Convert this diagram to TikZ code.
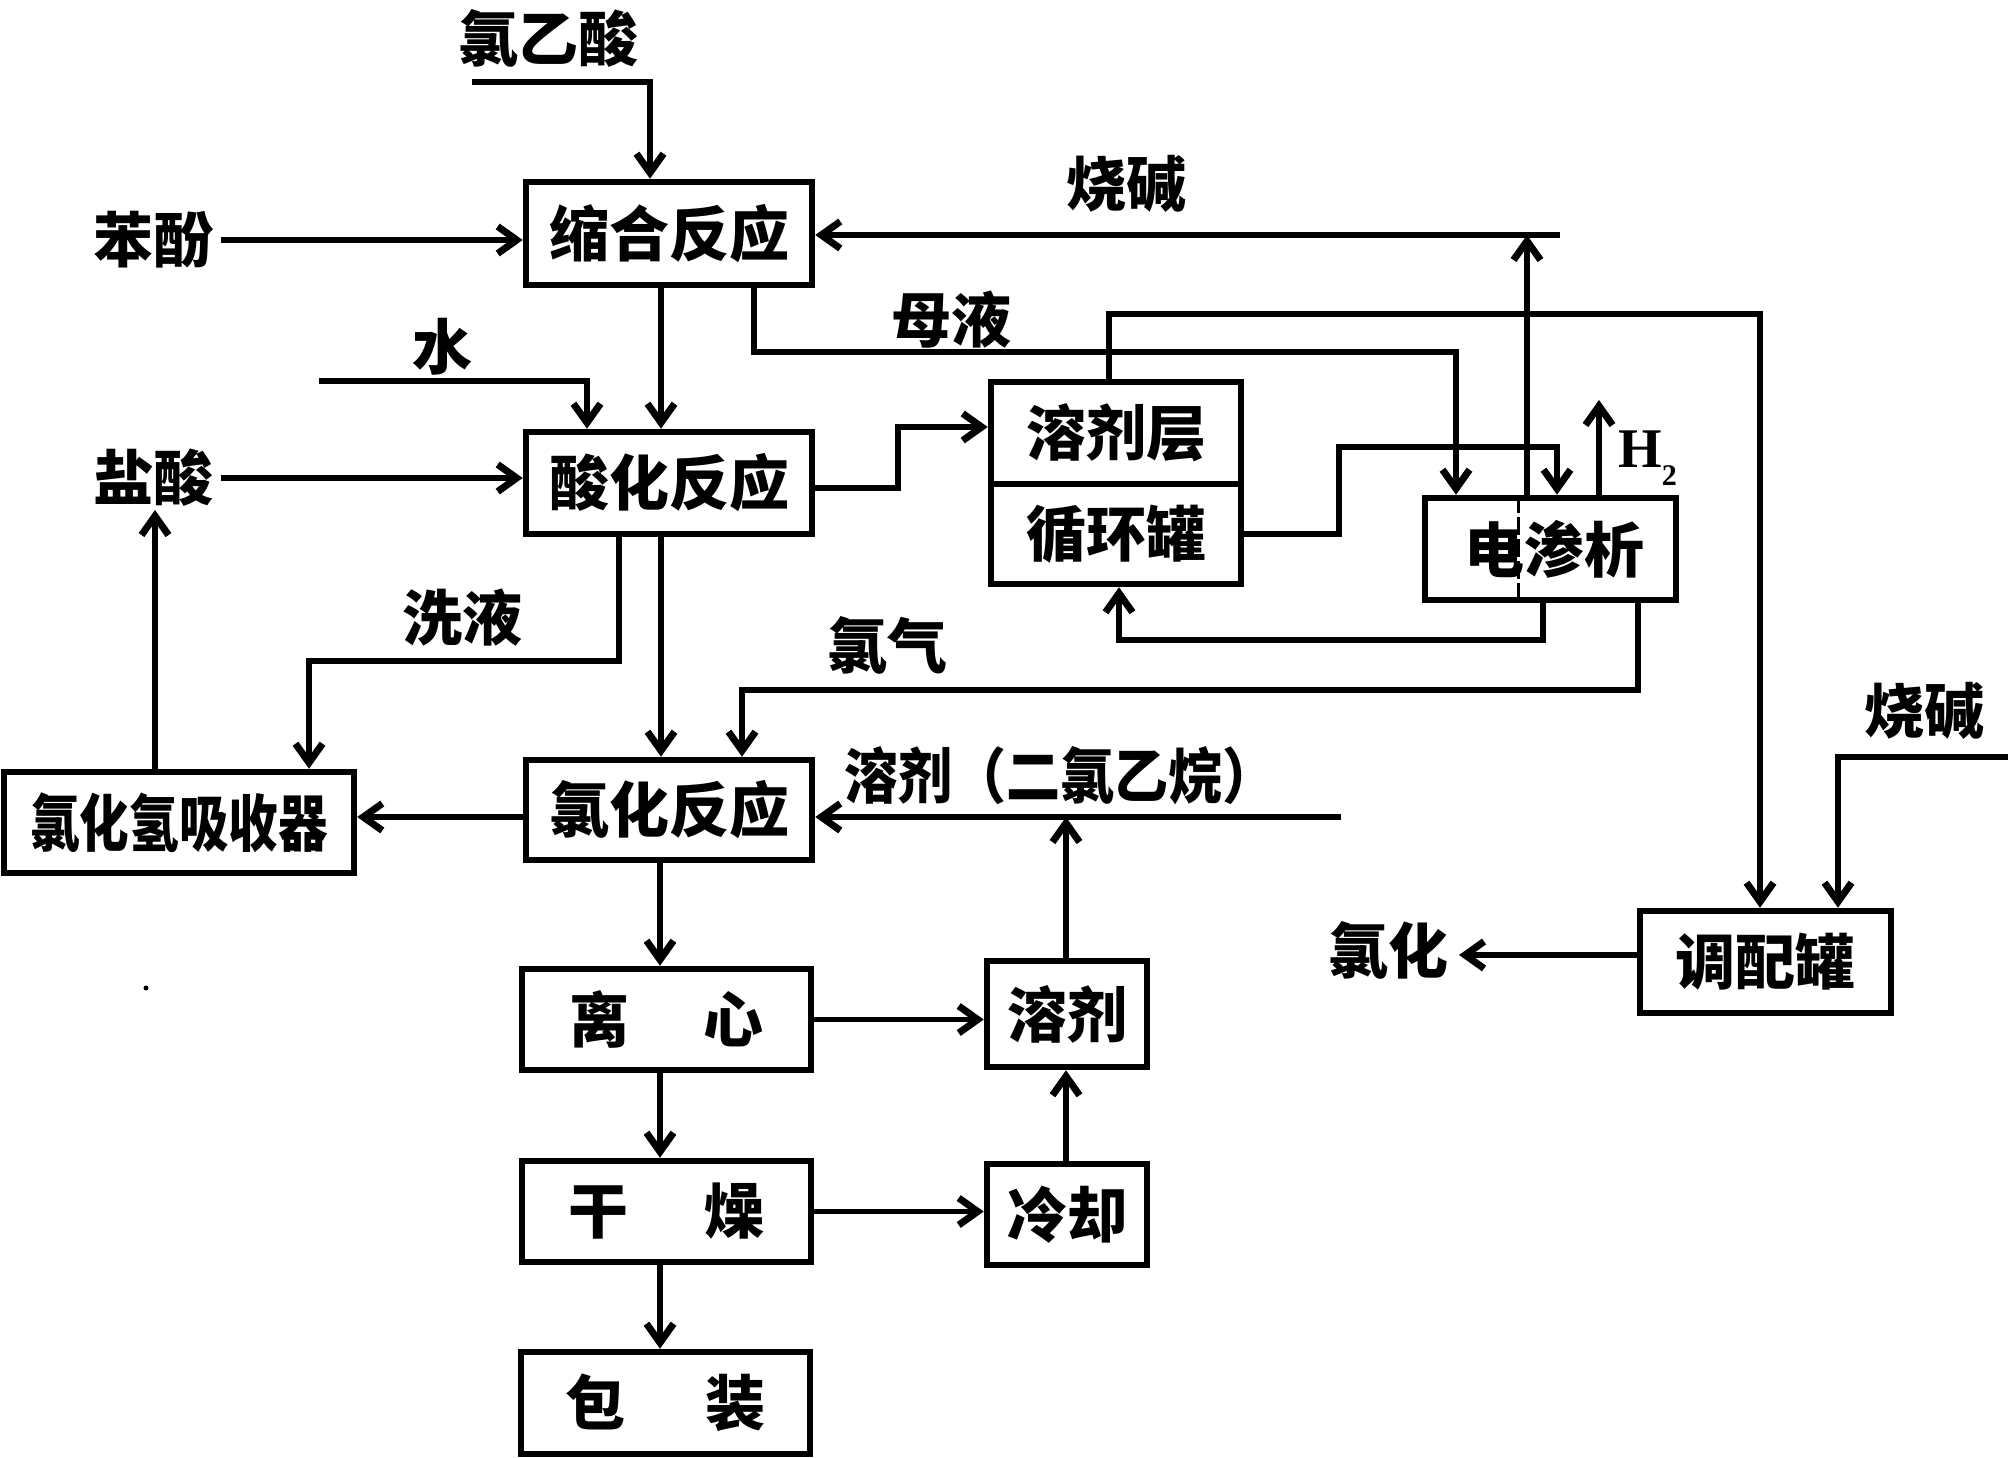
\documentclass[tikz,border=0pt]{standalone}
\usepackage{fontspec}
\setmainfont{Liberation Serif}
\newfontfamily\cjk{Noto Sans CJK SC}
\newfontfamily\cjkn{Noto Sans CJK SC}[FakeStretch=0.8]
\newfontfamily\cjkm{Noto Sans CJK SC}[FakeStretch=0.9]
\usetikzlibrary{arrows.meta}
\begin{document}
\begin{tikzpicture}[x=1pt,y=-1pt,
  box/.style={draw, line width=6.5pt, inner sep=0pt, font=\cjk\bfseries\fontsize{60}{60}\selectfont},
  lbl/.style={inner sep=0pt, font=\cjk\bfseries\fontsize{60}{60}\selectfont},
  arr/.style={line width=5.5pt, -{Straight Barb[length=19pt,width=27pt,line width=7pt]}}]
\fill[white] (0,0) rectangle (2012,1458);
\useasboundingbox (0,0) rectangle (2012,1458);

% boxes
\node[box,minimum width=286pt,minimum height=103pt] (hs) at (669,233.5) {缩合反应};
\node[box,minimum width=286pt,minimum height=102pt] (sh) at (669,483) {酸化反应};
\node[box,minimum width=250pt,minimum height=102pt] (rj) at (1116,433) {溶剂层};
\node[box,minimum width=250pt,minimum height=100pt] (xh) at (1116,534) {循环罐};
\node[box,minimum width=251pt,minimum height=102pt] (ds) at (1550.5,549) {\hspace{8pt}电渗析};
\node[box,minimum width=286pt,minimum height=100pt] (lh) at (669,810) {氯化反应};
\node[box,minimum width=350pt,minimum height=101pt,font=\cjkn\bfseries\fontsize{62}{62}\selectfont] (xs) at (179,822.5) {氯化氢吸收器};
\node[box,minimum width=289pt,minimum height=101pt] (lx) at (666.5,1019.5) {离\hspace{74pt}心};
\node[box,minimum width=160pt,minimum height=106pt] (rj2) at (1067,1014) {溶剂};
\node[box,minimum width=289pt,minimum height=101pt] (gz) at (666.5,1211.5) {干\hspace{76pt}燥};
\node[box,minimum width=160pt,minimum height=101pt] (lq) at (1067,1214.5) {冷却};
\node[box,minimum width=289pt,minimum height=102pt] (bz) at (665.5,1403) {包\hspace{80pt}装};
\node[box,minimum width=251pt,minimum height=102pt] (tp) at (1765.5,962) {调配罐};

% divider inside ds
\coordinate (dv) at (1518,0);
\draw[line width=3pt, dash pattern=on 18pt off 4pt] (dv |- ds.north) -- (dv |- ds.south);

% labels
\node[lbl] (lys) at (548,38) {氯乙酸};
\node[lbl] (bf) at (153,240) {苯酚};
\node[lbl] (sj1) at (1126,184) {烧碱};
\node[lbl] (my) at (951,320) {母液};
\node[lbl] (water) at (442,347) {水};
\node[lbl] (ys) at (153,478) {盐酸};
\node[lbl] (xy) at (462,618) {洗液};
\node[lbl] (lq2) at (887,645) {氯气};
\node[lbl,font=\cjkm\bfseries\fontsize{60}{60}\selectfont] (rjl) at (1060,776) {溶剂（二氯乙烷）};
\node[inner sep=0pt,anchor=base west,font=\bfseries\fontsize{56}{56}\selectfont] (h2) at (1618,467) {H\raisebox{-0.33em}{\fontsize{30}{30}\selectfont 2}};
\node[lbl] (lhT) at (1388,950) {氯化};
\node[lbl] (sj2) at (1924,711) {烧碱};

% coordinates
\coordinate (v0) at (661,0);
\coordinate (v1) at (660,0);
\coordinate (r1) at (1066,0);
\coordinate (a0) at (472,82);
\coordinate (sjR) at (1560,235);
\coordinate (up1) at (1527,235);
\coordinate (ml) at (1456,352);
\coordinate (w0) at (319,381);
\coordinate (a1) at (898,427);
\coordinate (b1) at (1339,447);
\coordinate (c1) at (1119,640);
\coordinate (h2t) at (1599,400);
\coordinate (d1) at (1109,314);
\coordinate (e1) at (1638,690);
\coordinate (f1) at (619,661);
\coordinate (g1) at (155,510);
\coordinate (s1) at (1341,817);
\coordinate (t1) at (1459,955);
\coordinate (k1) at (2008,757);

% connectors
\draw[arr] (a0) -| ([xshift=-19pt]hs.north);
\draw[arr] ([xshift=8pt]bf.east) -- (bf.east -| hs.west);
\draw[arr] (sjR) -- (sjR -| hs.east);
\draw[arr] (up1 |- ds.north) -- (up1);
\draw[arr] (v0 |- hs.south) -- (v0 |- sh.north);
\draw[arr] ([xshift=85pt]hs.south) |- (ml) -- (ml |- ds.north);
\draw[arr] (w0) -| ([xshift=-82pt]sh.north);
\draw[arr] ([xshift=8pt]ys.east) -- (ys.east -| sh.west);
\draw[arr] ([yshift=-5pt]sh.east) -| (a1) -- (a1 -| rj.west);
\draw[arr] (xh.east) -| (b1) -| ([xshift=6.5pt]ds.north);
\draw[arr] ([xshift=-7.5pt]ds.south) |- (c1) -- (c1 |- xh.south);
\draw[arr] (h2t |- ds.north) -- (h2t);
\draw[arr] (d1 |- rj.north) -- (d1) -| ([xshift=-5.5pt]tp.north);
\draw[arr] (e1 |- ds.south) -- (e1) -| ([xshift=73pt]lh.north);
\draw[arr] (v0 |- sh.south) -- (v0 |- lh.north);
\draw[arr] (f1 |- sh.south) -- (f1) -| ([xshift=130pt]xs.north);
\draw[arr] (g1 |- xs.north) -- (g1);
\draw[arr] ([yshift=-7pt]lh.west) -- ([yshift=-7pt]lh.west -| xs.east);
\draw[arr] (s1) -- (s1 -| lh.east);
\draw[arr] (r1 |- rj2.north) -- (r1 |- s1);
\draw[arr] (v1 |- lh.south) -- (v1 |- lx.north);
\draw[arr] (lx.east) -- (lx.east -| rj2.west);
\draw[arr] (v1 |- lx.south) -- (v1 |- gz.north);
\draw[arr] (gz.east) -- (gz.east -| lq.west);
\draw[arr] (r1 |- lq.north) -- (r1 |- rj2.south);
\draw[arr] (v1 |- gz.south) -- (v1 |- bz.north);
\draw[arr] (t1 -| tp.west) -- (t1);
\draw[arr] (k1) -| ([xshift=72.5pt]tp.north);

% stray speck
\fill (146,988) circle (2.5pt);
\end{tikzpicture}
\end{document}
